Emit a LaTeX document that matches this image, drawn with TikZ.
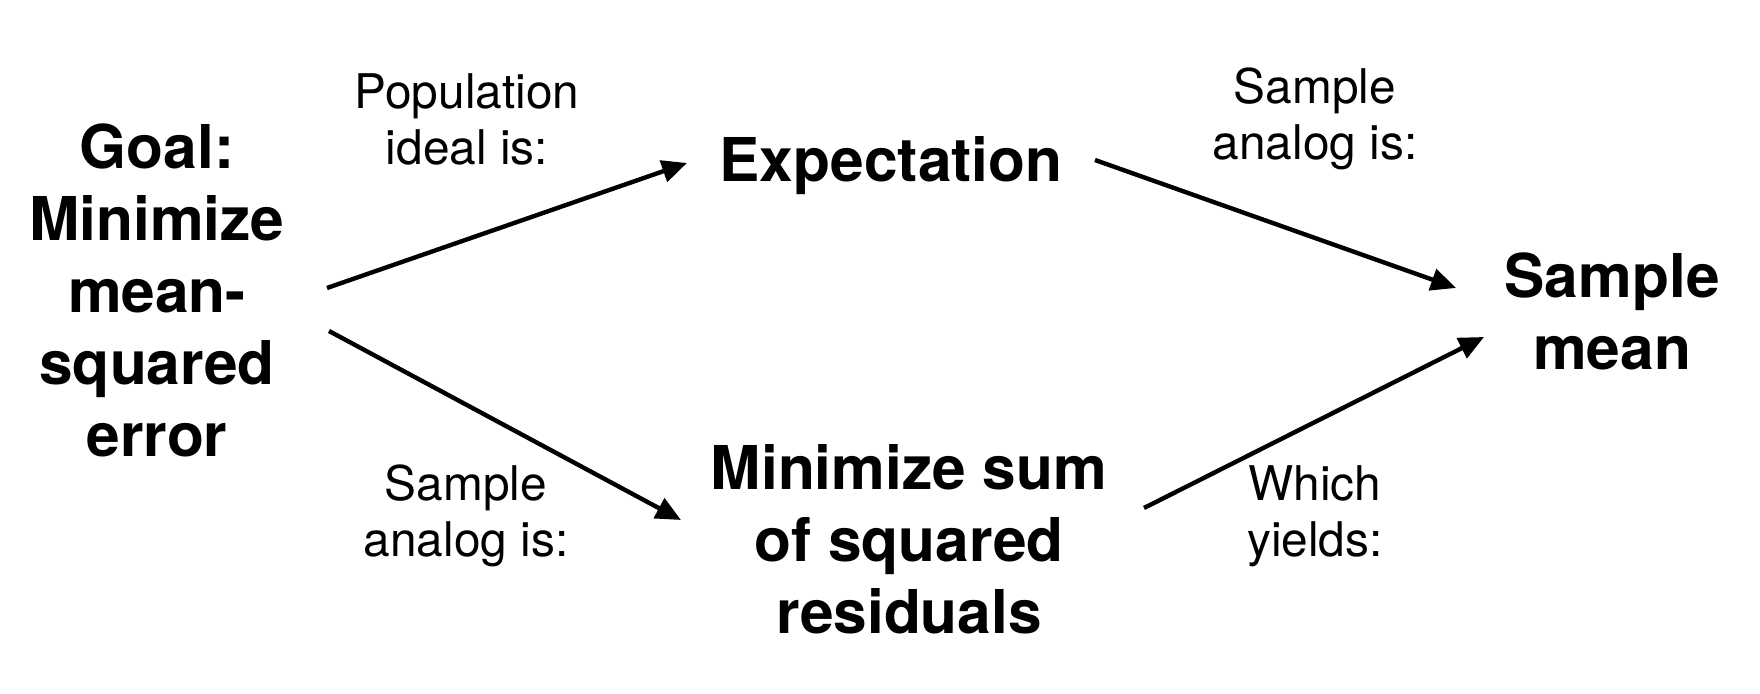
\documentclass[tikz,border=0pt]{standalone}
\usepackage{fontspec}
\setmainfont{TeX Gyre Heros}
\usetikzlibrary{arrows.meta}
\begin{document}
\begin{tikzpicture}[x=0.5pt,y=-0.5pt,
  big/.style={font=\fontsize{30.2}{36}\selectfont\bfseries,align=center,inner sep=0pt},
  small/.style={font=\fontsize{23.9}{28}\selectfont,align=center,inner sep=0pt},
  arr/.style={line width=2.2pt,-{Triangle[length=12.5pt,width=11pt]}}]
\useasboundingbox (0,0) rectangle (1760,694);
\node[big] (goal) at (157,290) {Goal:\\Minimize\\mean-\\squared\\error};
\node[big] (exp) at (891,166) {Expectation};
\node[big] (smean) at (1612,311) {Sample\\mean};
\node[big] (ssr) at (909,539) {Minimize sum\\of squared\\residuals};
\node[small] (l1) at (467,119) {Population\\ideal is:};
\node[small] (l2) at (1315,119) {Sample\\analog is:};
\node[small] (l3) at (466,516) {Sample\\analog is:};
\node[small] (l4) at (1315,516) {Which\\yields:};
\coordinate (g1) at (327,288);
\coordinate (g2) at (329,331);
\coordinate (e1) at (687,163);
\coordinate (e2) at (1095,160);
\coordinate (s1) at (681,520);
\coordinate (s2) at (1144,508);
\coordinate (m1) at (1456,288);
\coordinate (m2) at (1484,337);
\draw[arr] (g1) -- (e1);
\draw[arr] (g2) -- (s1);
\draw[arr] (e2) -- (m1);
\draw[arr] (s2) -- (m2);
\end{tikzpicture}
\end{document}
